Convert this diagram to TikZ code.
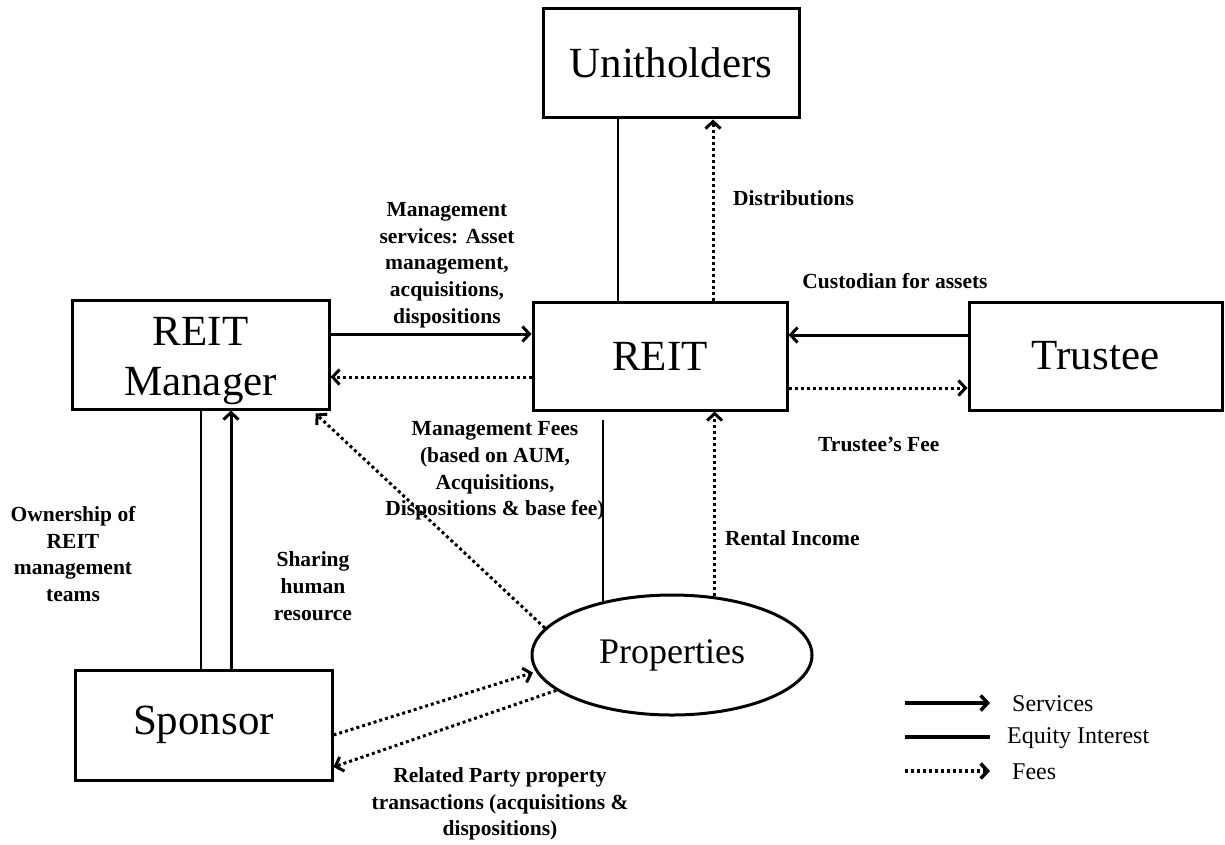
\documentclass[tikz,border=0pt]{standalone}
\usepackage{fontspec}
\setmainfont{Liberation Serif}
\usetikzlibrary{arrows.meta,shapes.geometric}
\begin{document}
\begin{tikzpicture}[x=1pt,y=-1pt,
  boxnode/.style={draw,line width=3pt,inner sep=0pt,align=center,font=\fontsize{43}{54}\selectfont},
  equity/.style={line width=2pt},
  serv/.style={line width=3pt,-{Straight Barb[length=7pt,width=15pt]}},
  fee/.style={line width=3pt,dash pattern=on 3pt off 3pt,-{Straight Barb[length=7pt,width=15pt]}},
  lbl/.style={font=\bfseries\fontsize{21.5}{26.7}\selectfont,align=center,inner sep=0pt},
  leg/.style={font=\fontsize{24}{28}\selectfont,anchor=west,inner sep=0pt}]
\fill[white] (0,0) rectangle (1225,844);
\useasboundingbox (0,0) rectangle (1225,844);

% boxes
\node[boxnode,minimum width=256pt,minimum height=109pt] (uh) at (671,62.5) {Unitholders};
\node[boxnode,minimum width=254pt,minimum height=108pt] (reit) at (660,356) {REIT};
\node[boxnode,minimum width=257pt,minimum height=109pt] (mgr) at (200.5,354.5) {\smash{\raisebox{-11pt}{\begin{tabular}{@{}c@{}}REIT\\[-4pt]Manager\end{tabular}}}};
\node[boxnode,minimum width=253pt,minimum height=108pt] (tru) at (1095.5,356) {Trustee};
\node[boxnode,minimum width=257pt,minimum height=110pt] (spo) at (203.5,725) {Sponsor};
\node[ellipse,draw,line width=3pt,inner sep=0pt,minimum width=280pt,minimum height=120pt,
      font=\fontsize{36}{42}\selectfont] (prop) at (672,655) {Properties};

% Unitholders - REIT
\draw[equity] ([xshift=-42pt]reit.north) -- ([xshift=-42pt]reit.north |- uh.south);
\draw[fee,shorten >=1pt] ([xshift=53pt]reit.north) -- ([xshift=53pt]reit.north |- uh.south);

% Manager - REIT
\draw[serv] ([yshift=20.5pt]mgr.east) -- ([yshift=20.5pt]mgr.east -| reit.west);
\draw[fee] ([yshift=-21pt]reit.west) -- ([yshift=-21pt]reit.west -| mgr.east);

% Trustee - REIT
\draw[serv] ([yshift=21pt]tru.west) -- ([yshift=21pt]tru.west -| reit.east);
\draw[fee] ([yshift=-32pt]reit.east) -- ([yshift=-32pt]reit.east -| tru.west);

% REIT - Properties
\draw[equity] (prop.142.9) -- ([yshift=-8pt]prop.142.9 |- reit.south);
\draw[fee] (prop.54.5) -- (prop.54.5 |- reit.south);

% Properties -> Manager
\coordinate (mgrtip) at ([xshift=-15pt,yshift=-3pt]mgr.south east);
\draw[fee] (prop.168) -- (mgrtip);

% Manager - Sponsor
\draw[equity] (mgr.south) -- (mgr.south |- spo.north);
\draw[serv] ([xshift=30.5pt]mgr.south |- spo.north) -- ([xshift=30.5pt]mgr.south);

% Sponsor - Properties
\draw[fee,shorten >=3pt] ([yshift=-10pt]spo.east) -- (prop.187.2);
\draw[fee] (prop.197.5) -- ([yshift=-42pt]spo.east);

% labels
\node[lbl] (lms) at (447,265) {Management\\services: Asset\\management,\\acquisitions,\\dispositions};
\node[lbl,anchor=west] (ldist) at (733,198) {Distributions};
\node[lbl] (lcust) at (895,281) {Custodian for assets};
\node[lbl,anchor=west] (ltf) at (818,444) {Trustee’s Fee};
\node[lbl] (lmf) at (495,471) {Management Fees\\(based on AUM,\\Acquisitions,\\Dispositions \& base fee)};
\node[lbl,anchor=west] (lri) at (725,538) {Rental Income};
\node[lbl] (lown) at (73,554) {Ownership of\\REIT\\management\\teams};
\node[lbl] (lsh) at (313,586) {Sharing\\human\\resource};
\node[lbl] (lrp) at (500,804) {Related Party property\\transactions (acquisitions \&\\dispositions)};

% legend
\coordinate (l1a) at (905,703); \coordinate (l1b) at (990,703);
\coordinate (l2a) at (905,737); \coordinate (l2b) at (990,737);
\coordinate (l3a) at (905,771); \coordinate (l3b) at (990,771);
\draw[serv,line width=3.5pt] (l1a) -- (l1b);
\draw[line width=3.5pt] (l2a) -- (l2b);
\draw[fee,line width=3.5pt] (l3a) -- (l3b);
\node[leg] (t1) at (1012,704) {Services};
\node[leg] (t2) at (1007,738) {Equity Interest};
\node[leg] (t3) at (1012,772) {Fees};
\end{tikzpicture}
\end{document}
